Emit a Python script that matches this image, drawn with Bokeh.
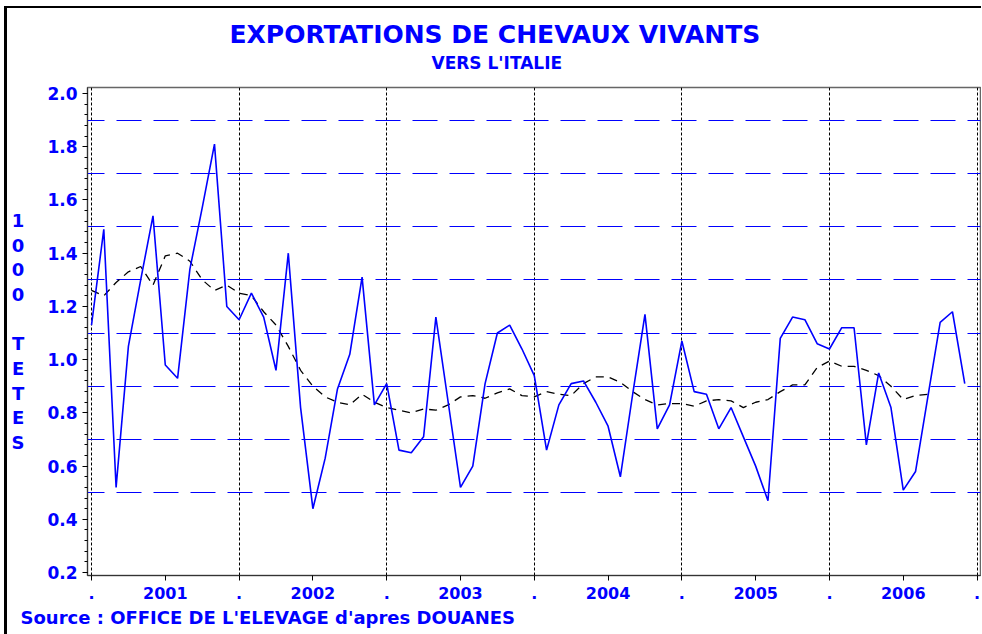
from bokeh.plotting import figure
from bokeh.models import Title, FixedTicker, Range1d
from bokeh.embed import file_html
from bokeh.resources import INLINE

# ---------------- data (monthly, Jan 2001 .. Dec 2006), in 1000 head ----------------
years = ["2001", "2002", "2003", "2004", "2005", "2006"]
exports = [
    1.13, 1.49, 0.52, 1.05, 1.30, 1.54, 0.98, 0.93, 1.34, 1.57, 1.81, 1.20,
    1.15, 1.25, 1.16, 0.96, 1.40, 0.82, 0.44, 0.63, 0.89, 1.02, 1.31, 0.83,
    0.91, 0.66, 0.65, 0.71, 1.16, 0.84, 0.52, 0.60, 0.91, 1.10, 1.13, 1.04,
    0.94, 0.66, 0.83, 0.91, 0.92, 0.84, 0.75, 0.56, 0.87, 1.17, 0.74, 0.83,
    1.07, 0.88, 0.87, 0.74, 0.82, 0.71, 0.60, 0.47, 1.08, 1.16, 1.15, 1.06,
    1.04, 1.12, 1.12, 0.68, 0.95, 0.82, 0.51, 0.58, 0.86, 1.14, 1.18, 0.91,
]
trend = [
    1.26, 1.24, 1.29, 1.33, 1.35, 1.28, 1.39, 1.40, 1.37, 1.30, 1.26, 1.28,
    1.25, 1.24, 1.18, 1.13, 1.05, 0.96, 0.90, 0.86, 0.84, 0.83, 0.87, 0.84,
    0.82, 0.81, 0.80, 0.815, 0.81, 0.83, 0.86, 0.865, 0.855, 0.875, 0.89, 0.865,
    0.86, 0.88, 0.87, 0.865, 0.91, 0.935, 0.935, 0.915, 0.88, 0.85, 0.83, 0.835,
    0.835, 0.825, 0.845, 0.85, 0.845, 0.82, 0.84, 0.85, 0.88, 0.905, 0.905, 0.97,
    0.995, 0.975, 0.975, 0.96, 0.94, 0.90, 0.85, 0.865, 0.87,
]
y_ticks = [0.2, 0.4, 0.6, 0.8, 1.0, 1.2, 1.4, 1.6, 1.8, 2.0]
h_lines = [0.5, 0.7, 0.9, 1.1, 1.3, 1.5, 1.7, 1.9]

title_text = "EXPORTATIONS DE CHEVAUX VIVANTS"
subtitle_text = "VERS L'ITALIE"
source_text = "Source : OFFICE DE L'ELEVAGE d'apres DOUANES"
ylabel_text = "1\n0\n0\n0\n\nT\nE\nT\nE\nS"

BLUE = "#0000ff"
FONT = "DejaVu Sans"
months_x = list(range(len(exports)))
trend_x = list(range(len(trend)))
boundaries = [12 * k for k in range(len(years) + 1)]
centers = [12 * k + 6 for k in range(len(years))]

p = figure(width=981, height=634, output_backend="svg", toolbar_location=None,
           x_range=Range1d(-0.325, 72.28), y_range=Range1d(0.189, 2.0226),
           min_border_left=87, min_border_right=1, min_border_top=87,
           min_border_bottom=59)
p.title.visible = False
p.outline_line_color = "#666666"
p.outline_line_width = 1.5
p.background_fill_color = "white"
p.border_fill_alpha = 0
p.styles = {
    "background": "linear-gradient(black, black) 4px 6px / 3px 100% no-repeat, "
                  "linear-gradient(black, black) 4px 6px / 100% 2px no-repeat, white",
}

# grids
p.xgrid.ticker = FixedTicker(ticks=boundaries)
p.xgrid.grid_line_color = "black"
p.xgrid.grid_line_dash = "3 2"
p.xgrid.grid_line_width = 1
p.ygrid.ticker = FixedTicker(ticks=h_lines)
p.ygrid.grid_line_color = BLUE
p.ygrid.grid_line_dash = "25 12"
p.ygrid.grid_line_dash_offset = 8
p.ygrid.grid_line_width = 1.2

# x axis
p.xaxis.ticker = FixedTicker(ticks=boundaries + centers)
overrides = {b: "." for b in boundaries}
for c, yname in zip(centers, years):
    overrides[c] = yname
p.xaxis.major_label_overrides = overrides
p.xaxis.major_tick_out = 5
p.xaxis.major_tick_in = 0
p.xaxis.minor_tick_line_color = None
p.xaxis.major_label_standoff = 6
p.xaxis.major_label_text_font = FONT
p.xaxis.major_label_text_font_style = "bold"
p.xaxis.major_label_text_font_size = "16px"
p.xaxis.major_label_text_color = BLUE
p.xaxis.axis_line_color = "#333333"

# y axis
p.yaxis.ticker = FixedTicker(ticks=y_ticks,
                             minor_ticks=[round(0.2 + 0.04 * k, 2) for k in range(46)])
p.yaxis.major_tick_out = 5
p.yaxis.major_tick_in = 0
p.yaxis.minor_tick_out = 3
p.yaxis.minor_tick_in = 0
p.yaxis.major_label_standoff = 5
p.yaxis.major_label_text_font = FONT
p.yaxis.major_label_text_font_style = "bold"
p.yaxis.major_label_text_font_size = "17px"
p.yaxis.major_label_text_color = BLUE
p.yaxis.major_label_overrides = {t: f"{t:.1f}" for t in y_ticks}
p.yaxis.axis_line_color = "#333333"
p.yaxis.axis_label = ylabel_text
p.yaxis.axis_label_orientation = "horizontal"
p.yaxis.axis_label_standoff = 20
p.yaxis.axis_label_text_font = FONT
p.yaxis.axis_label_text_font_style = "bold"
p.yaxis.axis_label_text_font_size = "18px"
p.yaxis.axis_label_text_color = BLUE
p.yaxis.axis_label_text_line_height = 1.175

# series
p.line(trend_x, trend, line_color="black", line_width=1.3, line_dash="8 6")
p.line(months_x, exports, line_color=BLUE, line_width=1.6)

# titles (first added = closest to the frame) and source line
t_sub = Title(text=subtitle_text, align="left", offset=344, vertical_align="middle",
              standoff=27, text_font=FONT, text_font_style="bold",
              text_font_size="17px", text_color=BLUE)
t_main = Title(text=title_text, align="left", offset=142, vertical_align="middle",
               standoff=-23, text_font=FONT, text_font_style="bold",
               text_font_size="25px", text_color=BLUE)
p.add_layout(t_sub, "above")
p.add_layout(t_main, "above")

t_src = Title(text=source_text, align="left", offset=-67, vertical_align="bottom",
              standoff=6, text_font=FONT, text_font_style="bold",
              text_font_size="18px", text_color=BLUE)
p.add_layout(t_src, "below")

open("out.html", "w").write(file_html(p, INLINE))
